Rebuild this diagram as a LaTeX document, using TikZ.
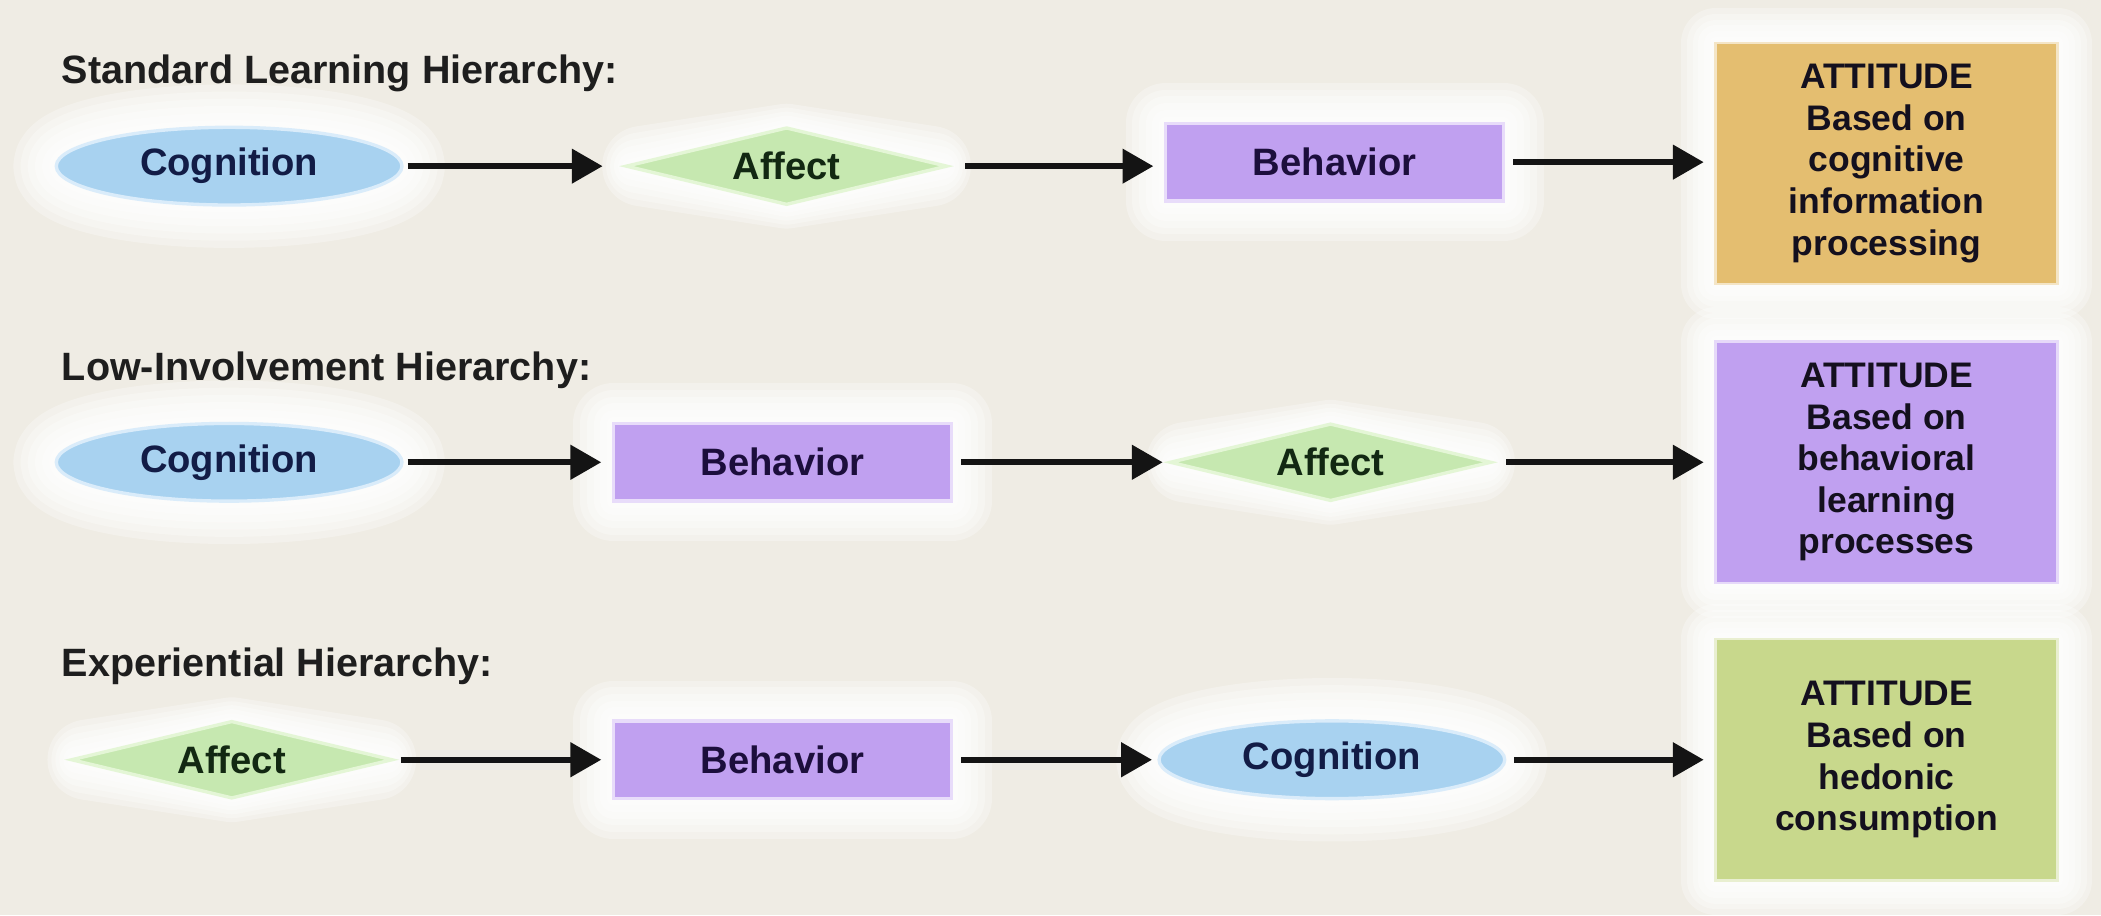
\documentclass[tikz,border=0pt]{standalone}
\usepackage{fontspec}
\setmainfont{Liberation Sans}
\usetikzlibrary{shapes.geometric,arrows.meta}
\definecolor{bg}{RGB}{239,236,228}
\definecolor{cogfill}{RGB}{168,210,240}
\definecolor{cogline}{RGB}{218,236,250}
\definecolor{cogtext}{RGB}{18,28,70}
\definecolor{afffill}{RGB}{198,232,176}
\definecolor{affline}{RGB}{228,246,214}
\definecolor{afftext}{RGB}{18,40,18}
\definecolor{behfill}{RGB}{192,160,240}
\definecolor{behline}{RGB}{232,220,250}
\definecolor{behtext}{RGB}{28,14,60}
\definecolor{attone}{RGB}{228,190,112}
\definecolor{atttwo}{RGB}{192,160,240}
\definecolor{attthree}{RGB}{200,216,140}
\definecolor{atttext}{RGB}{20,16,30}
\definecolor{titletext}{RGB}{30,30,30}
\definecolor{arrowc}{RGB}{20,20,20}
\tikzset{
  base/.style={inner sep=0pt, align=center, font=\bfseries\fontsize{28.5}{30}\selectfont},
  cogshape/.style={ellipse, minimum width=258pt, minimum height=58pt},
  affshape/.style={diamond, aspect=4.2, minimum width=240pt, minimum height=58pt},
  behshape/.style={rectangle, minimum width=252pt, minimum height=58pt},
  attshape/.style={rectangle, minimum width=255pt, minimum height=180pt},
  cog/.style={base, cogshape, fill=cogfill, draw=cogline, line width=2.5pt, text=cogtext},
  aff/.style={base, affshape, fill=afffill, draw=affline, line width=2.5pt, text=afftext},
  beh/.style={base, behshape, fill=behfill, draw=behline, line width=2.5pt, text=behtext},
  att/.style={base, attshape, line width=2pt, text=atttext, font=\bfseries\fontsize{26.5}{31}\selectfont},
  titlelbl/.style={anchor=west, inner sep=0pt, text=titletext, font=\bfseries\fontsize{29.5}{30}\selectfont},
  conn/.style={draw=arrowc, line width=4.5pt, -{Triangle[length=23pt,width=25pt]}, shorten <=6pt, shorten >=8pt},
}
% #1 shape style, #2 position, #3 halo size
\newcommand\halo[3]{%
  \foreach \k in {1,...,6}{%
    \pgfmathsetmacro\hw{2*#3*\k/6}%
    \node[#1, inner sep=0pt, draw=white, line width=\hw pt, draw opacity=0.3, line join=round, fill=none] at (#2) {};
  }%
}
\begin{document}
\begin{tikzpicture}[x=1pt,y=1pt]
\useasboundingbox (0,0) rectangle (1568,-683);
\fill[bg] (0,0) rectangle (1568,-683);

% halos
\halo{cogshape}{171,-124}{32}
\halo{affshape}{587,-124}{30}
\halo{behshape}{996,-121}{30}
\halo{attshape}{1408,-122}{26}
\halo{cogshape}{171,-345}{32}
\halo{behshape}{584,-345}{30}
\halo{affshape}{993,-345}{30}
\halo{attshape}{1408,-345}{26}
\halo{affshape}{173,-567}{30}
\halo{behshape}{584,-567}{30}
\halo{cogshape}{994,-567}{32}
\halo{attshape}{1408,-567}{26}

% titles
\node[titlelbl] (t1) at (46,-55) {Standard Learning Hierarchy:};
\node[titlelbl] (t2) at (46,-276) {Low-Involvement Hierarchy:};
\node[titlelbl] (t3) at (46,-497) {Experiential Hierarchy:};

% row 1
\node[cog] (cog1) at (171,-124) {Cognition};
\node[aff] (aff1) at (587,-124) {Affect};
\node[beh] (beh1) at (996,-121) {Behavior};
\node[att, fill=attone, draw=attone!40!white] (att1) at (1408,-122) {ATTITUDE\\Based on\\cognitive\\information\\processing};

% row 2
\node[cog] (cog2) at (171,-345) {Cognition};
\node[beh] (beh2) at (584,-345) {Behavior};
\node[aff] (aff2) at (993,-345) {Affect};
\node[att, fill=atttwo, draw=atttwo!40!white] (att2) at (1408,-345) {ATTITUDE\\Based on\\behavioral\\learning\\processes};

% row 3
\node[aff] (aff3) at (173,-567) {Affect};
\node[beh] (beh3) at (584,-567) {Behavior};
\node[cog] (cog3) at (994,-567) {Cognition};
\node[att, fill=attthree, draw=attthree!40!white] (att3) at (1408,-567) {ATTITUDE\\Based on\\hedonic\\consumption};

% connectors
\draw[conn, shorten <=3pt, shorten >=16pt] (cog1) -- (aff1);
\draw[conn, shorten <=12pt] (aff1) -- (aff1 -| beh1.west);
\draw[conn] (beh1) -- (beh1 -| att1.west);
\draw[conn, shorten <=3pt] (cog2) -- (beh2);
\draw[conn, shorten >=4pt] (beh2) -- (aff2);
\draw[conn, shorten <=10pt] (aff2) -- (att2);
\draw[conn, shorten <=5pt] (aff3) -- (beh3);
\draw[conn, shorten >=4pt] (beh3) -- (cog3);
\draw[conn] (cog3) -- (att3);
\end{tikzpicture}
\end{document}
